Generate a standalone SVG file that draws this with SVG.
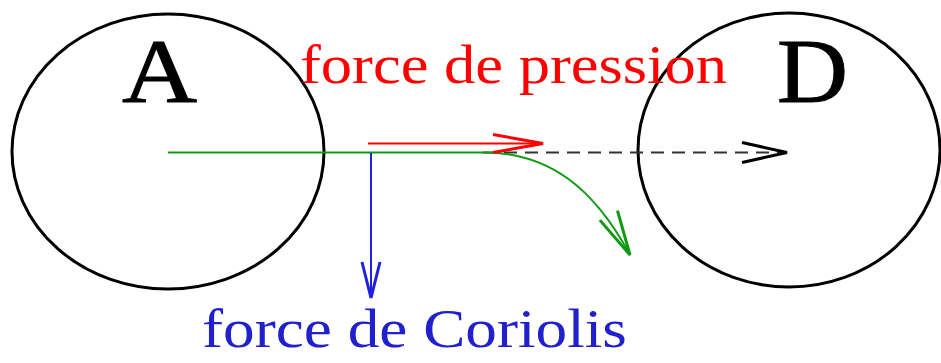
<svg xmlns="http://www.w3.org/2000/svg" width="941" height="363" viewBox="0 0 941 363">
<style>
.zone{fill:none;stroke:#000;stroke-width:3}
.big{font-family:"Liberation Serif","Times New Roman",serif;font-size:90px;fill:#000;stroke:#000;stroke-width:1}
.lbl{font-family:"Liberation Serif","Times New Roman",serif;font-size:55px}
.ln{fill:none;stroke-width:2}
</style>
<defs>
<marker id="hk" markerUnits="userSpaceOnUse" markerWidth="60" markerHeight="30" refX="0" refY="0" viewBox="-50 -15 60 30" orient="auto" overflow="visible"><path d="M-45,-10 L0,0 L-45,10" fill="none" stroke="#000" stroke-width="3"/></marker>
<marker id="hr" markerUnits="userSpaceOnUse" markerWidth="60" markerHeight="30" refX="0" refY="0" viewBox="-55 -15 60 30" orient="auto" overflow="visible"><path d="M-50,-9 L0,0 L-50,9" fill="none" stroke="#ff0000" stroke-width="3"/></marker>
<marker id="hb" markerUnits="userSpaceOnUse" markerWidth="60" markerHeight="30" refX="0" refY="0" viewBox="-45 -15 60 30" orient="auto" overflow="visible"><path d="M-36,-9 L0,0 L-36,9" fill="none" stroke="#2020e0" stroke-width="3"/></marker>
<marker id="hg" markerUnits="userSpaceOnUse" markerWidth="60" markerHeight="30" refX="0" refY="0" viewBox="-50 -15 60 30" orient="auto" overflow="visible"><path d="M-45,-10 L0,0 L-45,10" fill="none" stroke="#119911" stroke-width="3"/></marker>
</defs>
<g id="nodeA">
<ellipse class="zone" cx="168" cy="151.5" rx="156" ry="137.5"/>
<text class="big" x="122" y="102" textLength="75" lengthAdjust="spacingAndGlyphs">A</text>
</g>
<g id="nodeD">
<ellipse class="zone" cx="789" cy="150" rx="151" ry="137"/>
<text class="big" x="777" y="102" textLength="71" lengthAdjust="spacingAndGlyphs">D</text>
</g>
<g id="connectors">
<path class="ln" d="M483,152.5 H787" stroke="#333" stroke-dasharray="13,8" marker-end="url(#hk)"/>
<path class="ln" d="M168,152.5 H480 C550,151 595,190 630,255" stroke="#119911" stroke-width="2.5" marker-end="url(#hg)"/>
<path class="ln" d="M368,143.5 H543" stroke="#ff0000" stroke-width="3" marker-end="url(#hr)"/>
<path class="ln" d="M371,153 V298" stroke="#2020e0" marker-end="url(#hb)"/>
</g>
<g id="labels">
<text class="lbl" x="300" y="83" fill="#ff0000" textLength="427" lengthAdjust="spacingAndGlyphs">force de pression</text>
<text class="lbl" x="202" y="347" fill="#2020cc" textLength="425" lengthAdjust="spacingAndGlyphs">force de Coriolis</text>
</g>
</svg>
